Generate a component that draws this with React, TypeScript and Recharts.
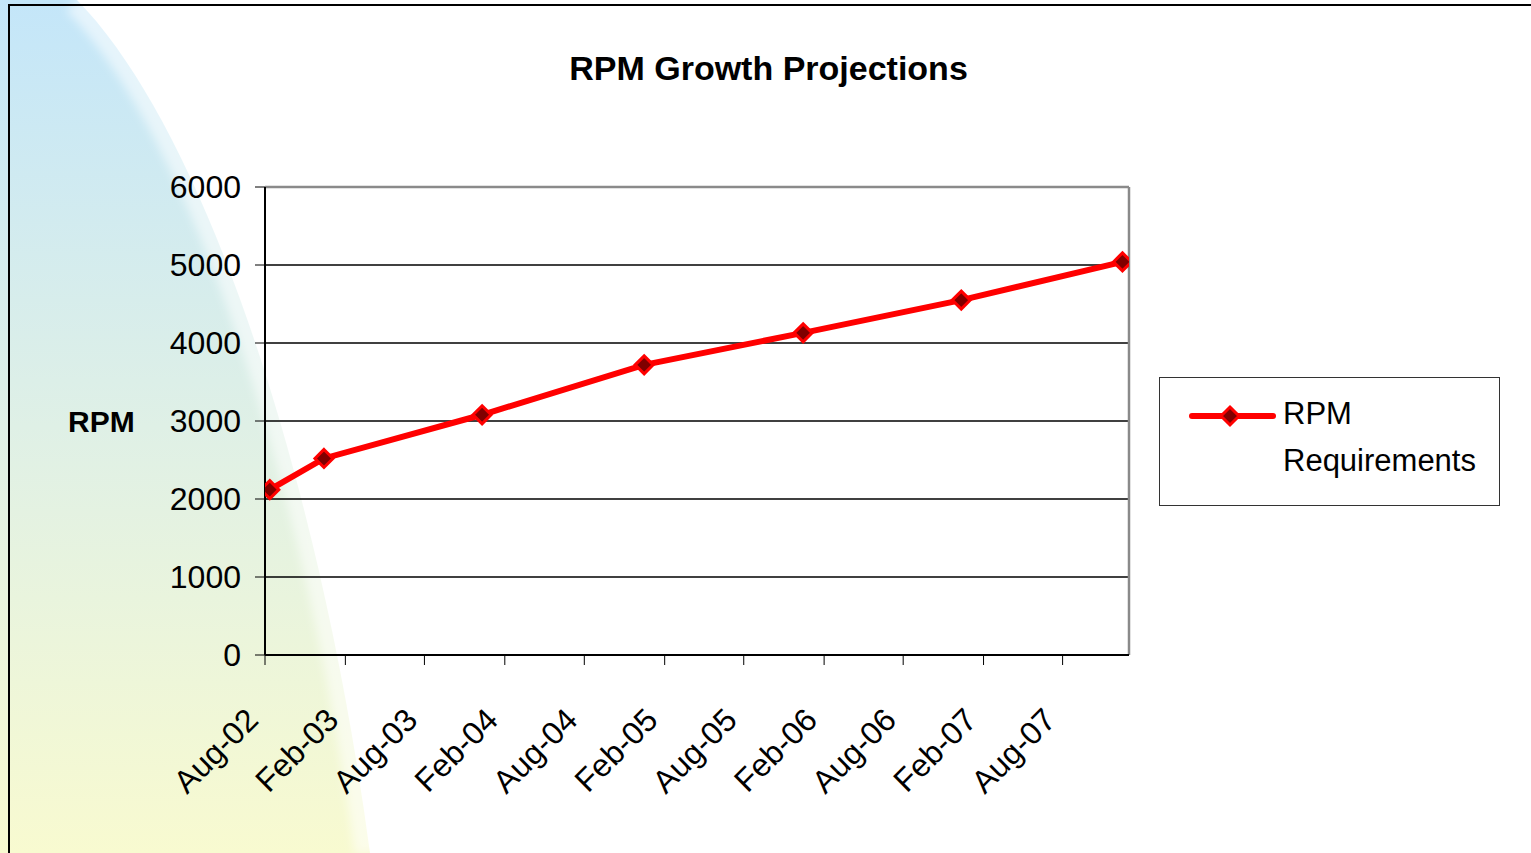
import React from 'react';
import { LineChart, Line, XAxis, YAxis, CartesianGrid, ReferenceLine, Legend, Label } from 'recharts';

// RPM requirement points (dates)
const pointDates = ['2002-08-12', '2002-12-14', '2003-12-11', '2004-12-16', '2005-12-15', '2006-12-12', '2007-12-16'];
const rpmValues = [2120, 2520, 3080, 3720, 4130, 4550, 5040];

// date axis
const tickDates = [
  '2002-08-01', '2003-02-01', '2003-08-01', '2004-02-01', '2004-08-01', '2005-02-01',
  '2005-08-01', '2006-02-01', '2006-08-01', '2007-02-01', '2007-08-01',
];
const tickLabels = ['Aug-02', 'Feb-03', 'Aug-03', 'Feb-04', 'Aug-04', 'Feb-05', 'Aug-05', 'Feb-06', 'Aug-06', 'Feb-07', 'Aug-07'];
const axisStart = '2002-08-01';
const axisEnd = '2007-12-31';
const yTicks = [0, 1000, 2000, 3000, 4000, 5000, 6000];

const FONT = '"Liberation Sans", Arial, Helvetica, sans-serif';

const toDay = (s: string) => Date.parse(s + 'T00:00:00Z') / 86400000;

const data = pointDates.map((d, i) => ({ t: toDay(d), rpm: rpmValues[i] }));
const tickNums = tickDates.map(toDay);

const Diamond = ({ cx, cy }: any) => {
  if (cx == null || cy == null) return null;
  const r = 9;
  return (
    <path
      d={`M${cx},${cy - r} L${cx + r},${cy} L${cx},${cy + r} L${cx - r},${cy} Z`}
      fill="#800000"
      stroke="#ff0000"
      strokeWidth={3}
    />
  );
};

const DateTick = (props: any) => {
  const { x, y, payload } = props;
  const idx = tickNums.indexOf(payload.value);
  const ax = x - 5;
  const ay = y + 57;
  return (
    <text
      x={ax}
      y={ay}
      transform={`rotate(-45 ${ax} ${ay})`}
      textAnchor="end"
      fontSize={32}
      fill="#000"
      fontFamily={FONT}
    >
      {tickLabels[idx]}
    </text>
  );
};

const LegendBox = () => (
  <div
    style={{
      position: 'relative',
      width: 341,
      height: 129,
      boxSizing: 'border-box',
      border: '1.5px solid #333',
      background: '#fff',
      fontFamily: FONT,
    }}
  >
    <svg style={{ position: 'absolute', left: 0, top: 0 }} width={130} height={80}>
      <line x1={32} y1={38} x2={113} y2={38} stroke="#ff0000" strokeWidth={6} strokeLinecap="round" />
      <Diamond cx={70} cy={38} />
    </svg>
    <div style={{ position: 'absolute', left: 123, top: 12, fontSize: 31, lineHeight: '47px', color: '#000', whiteSpace: 'nowrap' }}>
      RPM
      <br />
      Requirements
    </div>
  </div>
);

export default function App() {
  return (
    <div style={{ position: 'absolute', left: 0, top: 0, width: 1531, height: 853, overflow: 'hidden', background: '#fff' }}>
      {/* slide background swoosh */}
      <svg width={1531} height={853} style={{ position: 'absolute', left: 0, top: 0 }}>
        <defs>
          <linearGradient id="bgSwoosh" x1="0" y1="0" x2="0" y2="1">
            <stop offset="0" stopColor="#c4e6f9" />
            <stop offset="0.5" stopColor="#dff0e6" />
            <stop offset="1" stopColor="#f8fad0" />
          </linearGradient>
          <filter id="soft" x="-20%" y="-20%" width="140%" height="140%">
            <feGaussianBlur stdDeviation="5" />
          </filter>
        </defs>
        <path d="M0,0 L77,0 C205,130 320,480 370,853 L0,853 Z" fill="url(#bgSwoosh)" />
        <path
          d="M77,0 C205,130 320,480 370,853"
          fill="none"
          stroke="#ffffff"
          strokeWidth={30}
          strokeOpacity={0.55}
          filter="url(#soft)"
        />
      </svg>
      {/* outer frame */}
      <div
        style={{
          position: 'absolute',
          left: 8,
          top: 4,
          width: 1540,
          height: 860,
          borderLeft: '2px solid #000',
          borderTop: '2px solid #000',
        }}
      />
      <div
        style={{
          position: 'absolute',
          left: 0,
          top: 51,
          width: 1537,
          textAlign: 'center',
          fontFamily: FONT,
          fontWeight: 'bold',
          fontSize: 34,
          lineHeight: '34px',
          color: '#000',
        }}
      >
        RPM Growth Projections
      </div>
      <div style={{ position: 'absolute', left: 0, top: 0 }}>
        <LineChart
          width={1531}
          height={853}
          data={data}
          margin={{ top: 187, right: 61, bottom: 0, left: 0 }}
          style={{ fontFamily: FONT }}
        >
          <CartesianGrid vertical={false} stroke="#000" strokeWidth={1.3} />
          <ReferenceLine y={6000} stroke="#8a8a8a" strokeWidth={2.5} />
          <ReferenceLine x={toDay(axisEnd)} stroke="#8a8a8a" strokeWidth={2.5} />
          <XAxis
            dataKey="t"
            type="number"
            domain={[toDay(axisStart), toDay(axisEnd)]}
            ticks={tickNums}
            interval={0}
            height={198}
            axisLine={{ stroke: '#000', strokeWidth: 2 }}
            tickLine={{ stroke: '#000', strokeWidth: 1 }}
            tickSize={10}
            tickMargin={0}
            tick={<DateTick />}
            allowDataOverflow
          />
          <YAxis
            type="number"
            domain={[0, 6000]}
            ticks={yTicks}
            interval={0}
            width={265}
            axisLine={{ stroke: '#000', strokeWidth: 2 }}
            tickLine={{ stroke: '#000', strokeWidth: 1 }}
            tickSize={10}
            tickMargin={14}
            tick={{ fontSize: 32, fill: '#000', fontFamily: FONT }}
          >
            <Label
              value="RPM"
              position="insideLeft"
              offset={68}
              fontSize={30}
              fontWeight="bold"
              fill="#000"
              fontFamily={FONT}
            />
          </YAxis>
          <Legend
            content={<LegendBox />}
            layout="horizontal"
            verticalAlign="middle"
            align="right"
            wrapperStyle={{ left: 1159, top: 377, width: 341, height: 129 }}
          />
          <Line
            type="linear"
            dataKey="rpm"
            name="RPM Requirements"
            stroke="#ff0000"
            strokeWidth={6}
            dot={<Diamond />}
            activeDot={false}
            isAnimationActive={false}
          />
        </LineChart>
      </div>
    </div>
  );
}
